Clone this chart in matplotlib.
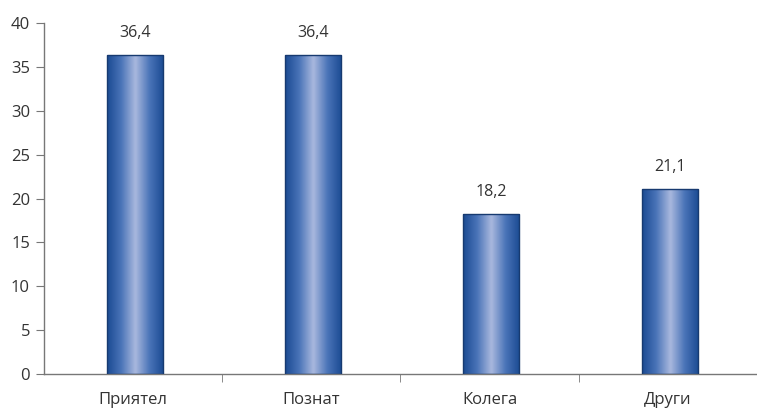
import matplotlib
matplotlib.use("Agg")
import matplotlib.pyplot as plt
import numpy as np
from matplotlib.colors import LinearSegmentedColormap

categories = ["Приятел", "Познат", "Колега", "Други"]
values = [36.4, 36.4, 18.2, 21.1]
labels = ["36,4", "36,4", "18,2", "21,1"]
yticks = [0, 5, 10, 15, 20, 25, 30, 35, 40]

plt.rcParams['font.family'] = ['Open Sans', 'DejaVu Sans']

fig = plt.figure(figsize=(7.57, 4.12), dpi=100)
ax = fig.add_axes([0.058, 0.092, 0.942, 0.852])

cmap = LinearSegmentedColormap.from_list("g", ["#1a4a92", "#4a74b8", "#a9b8de", "#4a74b8", "#1a4a92"])
grad = np.linspace(0, 1, 256).reshape(1, -1)

x = np.arange(len(categories))
width = 0.315
bars = ax.bar(x + 0.01, values, width=width, facecolor="none", edgecolor="#173a70", linewidth=1.0, zorder=3)
for b in bars:
    x0, y0 = b.get_x(), b.get_y()
    w, h = b.get_width(), b.get_height()
    im = ax.imshow(grad, cmap=cmap, aspect="auto", extent=[x0, x0 + w, y0, y0 + h], zorder=2, interpolation="bicubic")
    im.set_clip_path(b)

for xi, v, lab in zip(x, values, labels):
    ax.text(xi + 0.01, v + 1.6, lab, ha="center", va="bottom", fontsize=11.5, color="#333333")

ax.set_xlim(-0.5, len(categories) - 0.5)
ax.set_ylim(0, 40)
ax.set_yticks(yticks)
ax.set_yticklabels([str(t) for t in yticks], fontsize=12, color="#333333")
ax.set_xticks(x)
ax.set_xticklabels(categories, fontsize=12, color="#333333")
ax.tick_params(axis="x", length=0, pad=13)
ax.set_xticks(np.arange(0.5, len(categories) - 0.5, 1), minor=True)
ax.tick_params(axis="x", which="minor", length=6, color="#777777", direction="out")
ax.tick_params(axis="y", length=6, color="#777777", direction="out", pad=4)

for s in ["top", "right"]:
    ax.spines[s].set_visible(False)
for s in ["left", "bottom"]:
    ax.spines[s].set_color("#777777")
    ax.spines[s].set_linewidth(1.0)

fig.savefig("out.png", dpi=100)
